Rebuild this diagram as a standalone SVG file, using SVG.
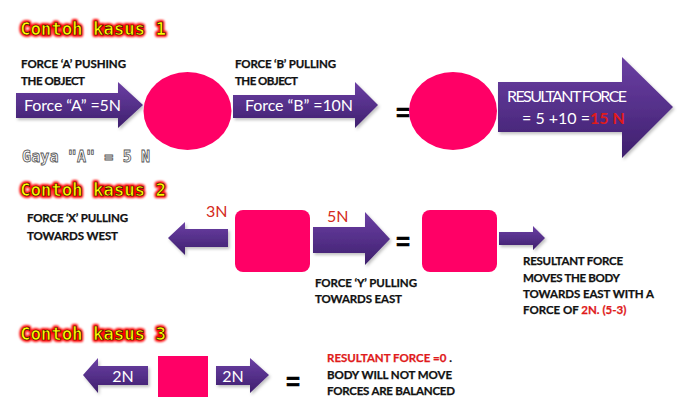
<svg xmlns="http://www.w3.org/2000/svg" width="697" height="412" viewBox="0 0 697 412">
<defs>
<linearGradient id="pg" x1="0" y1="0" x2="0" y2="1">
<stop offset="0" stop-color="#6b3fa3"/>
<stop offset="0.5" stop-color="#55308a"/>
<stop offset="1" stop-color="#3e1f6c"/>
</linearGradient>
<filter id="glow" x="-10%" y="-40%" width="120%" height="180%">
<feGaussianBlur stdDeviation="1.2"/>
</filter>
<filter id="sh" x="-10%" y="-20%" width="125%" height="150%">
<feDropShadow dx="1.5" dy="2" stdDeviation="1.5" flood-color="#000" flood-opacity="0.25"/>
</filter>
</defs>
<style>
.tg{font-family:"DejaVu Sans Mono",monospace;font-weight:bold;font-size:17.5px;fill:#ff2a00;stroke:#ff0000;stroke-width:4;stroke-linejoin:round}
.tt{font-family:"DejaVu Sans Mono",monospace;font-weight:bold;font-size:17.5px;fill:#ffff00;stroke:#3a1a00;stroke-width:0.7}
.lb{font-family:Lato,"Liberation Sans",sans-serif;font-weight:bold;font-size:11.5px;fill:#111;stroke:#111;stroke-width:0.25}
.ai{font-family:Lato,"Liberation Sans",sans-serif;font-size:16px;fill:#fff}
.rd{fill:#e01b1b;stroke:#e01b1b}
.nm{font-family:Lato,"Liberation Sans",sans-serif;font-size:16px;fill:#d42a20}
.eq{font-family:"Liberation Sans",sans-serif;font-weight:bold;font-size:24px;fill:#000;stroke:#000;stroke-width:0.6}
.arr{fill:url(#pg);filter:url(#sh)}
.obj{fill:#ff0066}
.gy{font-family:"DejaVu Sans Mono",monospace;font-weight:bold;font-size:15px;fill:#fff;stroke:#555;stroke-width:0.8}
</style>
<rect width="697" height="412" fill="#fff"/>

<g id="titles">
<text class="tg" x="20" y="35" textLength="146" filter="url(#glow)">Contoh kasus 1</text>
<text class="tt" x="20" y="35" textLength="146">Contoh kasus 1</text>
<text class="tg" x="20" y="196" textLength="146" filter="url(#glow)">Contoh kasus 2</text>
<text class="tt" x="20" y="196" textLength="146">Contoh kasus 2</text>
<text class="tg" x="20" y="340" textLength="146" filter="url(#glow)">Contoh kasus 3</text>
<text class="tt" x="20" y="340" textLength="146">Contoh kasus 3</text>
</g>

<g id="connectors">
<polygon class="arr" points="16,93 118,93 118,82 143,105 118,128 118,118 16,118"/>
<polygon class="arr" points="233,95 355,95 355,82 378,105 355,128 355,118 233,118"/>
<polygon class="arr" points="498,82 622,82 622,57 673,107 622,158 622,132 498,132"/>
<polygon class="arr" points="228,229 185,229 185,222 168,238 185,255 185,247 228,247"/>
<polygon class="arr" points="313,227 365,227 365,212 390,239 365,265 365,253 313,253"/>
<polygon class="arr" points="499,232 533,232 533,226 545,238 533,250 533,245 499,245"/>
<polygon class="arr" points="148,366 98,366 98,358 83,375 98,393 98,385 148,385"/>
<polygon class="arr" points="216,366 250,366 250,358 269,375 250,393 250,385 216,385"/>
</g>

<g id="case1">
<g id="labelA">
<text class="lb" x="21" y="68" textLength="105">FORCE ‘A’ PUSHING</text>
<text class="lb" x="21" y="85" textLength="64">THE OBJECT</text>
<text class="ai" x="24" y="111" textLength="97">Force “A” =5N</text>
</g>
<g id="obj1"><ellipse class="obj" cx="187.5" cy="111" rx="44" ry="39"/></g>
<g id="labelB">
<text class="lb" x="235" y="68" textLength="101">FORCE ‘B’ PULLING</text>
<text class="lb" x="235" y="85" textLength="63">THE OBJECT</text>
<text class="ai" x="245" y="111" textLength="108">Force “B” =10N</text>
</g>
<text class="eq" x="396" y="121">=</text>
<g id="obj2"><ellipse class="obj" cx="453" cy="111" rx="44" ry="39"/></g>
<g id="result1">
<text class="ai" x="507" y="102" font-size="14.5" textLength="120">RESULTANT FORCE</text>
<text class="ai" x="522" y="124" font-size="15">= 5 +10 =<tspan fill="#e01b1b" font-weight="bold">15 N</tspan></text>
</g>
<text class="gy" x="22" y="162" textLength="128">Gaya "A" = 5 N</text>
</g>

<g id="case2">
<g id="labelX">
<text class="lb" x="27" y="222" textLength="101">FORCE ‘X’ PULLING</text>
<text class="lb" x="27" y="240" textLength="91">TOWARDS WEST</text>
</g>
<text class="nm" x="206" y="217">3N</text>
<g id="obj3"><rect class="obj" x="235" y="210" width="75" height="62" rx="8"/></g>
<text class="nm" x="327" y="222">5N</text>
<g id="labelY">
<text class="lb" x="315" y="287" textLength="102">FORCE ‘Y’ PULLING</text>
<text class="lb" x="315" y="303" textLength="87">TOWARDS EAST</text>
</g>
<text class="eq" x="396" y="250">=</text>
<g id="obj4"><rect class="obj" x="422" y="210" width="75" height="62" rx="8"/></g>
<g id="result2">
<text class="lb" x="523" y="265" textLength="100">RESULTANT FORCE</text>
<text class="lb" x="523" y="282" textLength="97">MOVES THE BODY</text>
<text class="lb" x="523" y="298" textLength="131">TOWARDS EAST WITH A</text>
<text class="lb" x="523" y="314">FORCE OF <tspan class="rd">2N. (5-3)</tspan></text>
</g>
</g>

<g id="case3">
<text class="ai" x="123" y="382" text-anchor="middle">2N</text>
<g id="obj5"><rect class="obj" x="158" y="356" width="50" height="41"/></g>
<text class="ai" x="233" y="382" text-anchor="middle">2N</text>
<text class="eq" x="286" y="390">=</text>
<g id="result3">
<text class="lb" x="327" y="362"><tspan class="rd">RESULTANT FORCE =0</tspan> .</text>
<text class="lb" x="327" y="379" textLength="125">BODY WILL NOT MOVE</text>
<text class="lb" x="327" y="395" textLength="128">FORCES ARE BALANCED</text>
</g>
</g>
</svg>
